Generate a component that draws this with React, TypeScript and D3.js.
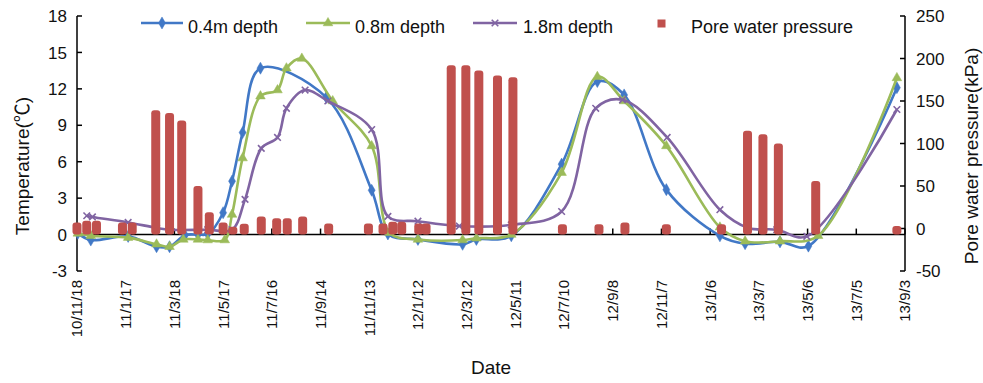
import React from "react";
import * as d3 from "d3";

// ---- tick labels (x axis, date axis with 60-day major unit) ----
const xTickLabels = [
  "10/11/18", "11/1/17", "11/3/18", "11/5/17", "11/7/16", "11/9/14",
  "11/11/13", "12/1/12", "12/3/12", "12/5/11", "12/7/10", "12/9/8",
  "12/11/7", "13/1/6", "13/3/7", "13/5/6", "13/7/5", "13/9/3",
];
const leftTicks = [-3, 0, 3, 6, 9, 12, 15, 18];
const rightTicks = [-50, 0, 50, 100, 150, 200, 250];

// ---- 0.4m depth ----
const dates04 = [
  "2010-11-19", "2010-12-05", "2011-01-20", "2011-02-24", "2011-03-12",
  "2011-03-31", "2011-04-16", "2011-04-28", "2011-05-17", "2011-05-28",
  "2011-06-10", "2011-07-02", "2011-09-21", "2011-11-16", "2011-12-06",
  "2012-01-12", "2012-03-07", "2012-03-24", "2012-05-06", "2012-07-07",
  "2012-08-20", "2012-09-22", "2012-11-13", "2013-01-18", "2013-02-18",
  "2013-04-02", "2013-05-07", "2013-08-24",
];
const temp04 = [
  0.1, -0.45, -0.15, -1.0, -1.0,
  -0.05, 0.0, 0.05, 1.8, 4.4,
  8.4, 13.7, 11.3, 3.65, 0.05,
  -0.4, -0.8, -0.4, -0.1, 5.8,
  12.6, 11.5, 3.7, -0.1, -0.75,
  -0.6, -0.95, 12.1,
];

// ---- 0.8m depth ----
const dates08 = [
  "2010-11-19", "2010-12-05", "2011-01-20", "2011-02-24", "2011-03-12",
  "2011-03-29", "2011-04-16", "2011-04-28", "2011-05-19", "2011-05-28",
  "2011-06-10", "2011-07-02", "2011-07-23", "2011-08-03", "2011-08-22",
  "2011-09-29", "2011-11-16", "2011-12-08", "2012-01-12", "2012-03-07",
  "2012-03-24", "2012-05-06", "2012-07-07", "2012-08-20", "2012-09-22",
  "2012-11-13", "2013-01-18", "2013-02-18", "2013-04-02", "2013-05-19",
  "2013-08-24",
];
const temp08 = [
  0.1, -0.1, -0.25, -0.8, -1.0,
  -0.4, -0.4, -0.45, -0.45, 1.65,
  6.3, 11.4, 11.9, 13.7, 14.5,
  11.0, 7.3, 0.15, -0.4, -0.45,
  -0.3, 0.0, 5.1, 13.0, 11.0,
  7.3, 0.6, -0.55, -0.55, -0.1,
  12.9,
];

// ---- 1.8m depth ----
const dates18 = [
  "2010-11-30", "2010-12-07", "2011-01-20", "2011-02-24", "2011-03-12",
  "2011-04-28", "2011-05-28", "2011-06-13", "2011-07-03", "2011-07-23",
  "2011-08-03", "2011-08-26", "2011-09-23", "2011-11-16", "2011-12-06",
  "2012-01-12", "2012-03-03", "2012-05-06", "2012-07-07", "2012-08-18",
  "2012-09-20", "2012-11-14", "2013-01-18", "2013-02-22", "2013-03-29",
  "2013-05-05", "2013-08-24",
];
const temp18 = [
  1.55, 1.45, 1.0, 0.55, 0.4,
  0.4, 0.4, 2.9, 7.1, 8.0,
  10.4, 11.9, 11.0, 8.65, 1.5,
  1.1, 0.7, 0.8, 1.9, 10.4,
  11.1, 8.0, 2.05, 0.55, 0.4,
  -0.15, 10.3,
];

// ---- pore water pressure (kPa) ----
const pwpDates = [
  "2010-11-18", "2010-11-30", "2010-12-12", "2011-01-13", "2011-01-25",
  "2011-02-23", "2011-03-12", "2011-03-27", "2011-04-16", "2011-04-30",
  "2011-05-17", "2011-05-29", "2011-06-12", "2011-07-03", "2011-07-22",
  "2011-08-04", "2011-08-23", "2011-09-24", "2011-11-12", "2011-11-30",
  "2011-12-12", "2011-12-23", "2012-01-13", "2012-01-22", "2012-02-22",
  "2012-03-11", "2012-03-27", "2012-04-19", "2012-05-08", "2012-07-08",
  "2012-08-22", "2012-09-23", "2012-11-13", "2013-01-20", "2013-02-21",
  "2013-03-12", "2013-03-31", "2013-05-16", "2013-08-24",
];
const pwpValues = [
  7, 9, 9, 7, 7,
  139, 136, 127, 50, 19,
  7, 2, 5.5, 14, 12,
  12, 14, 6, 6, 6,
  8, 8, 6, 6, 192,
  192, 186, 180, 178, 5,
  5, 7, 5, 5, 115,
  111, 100, 56, 3,
];

const BLUE = "#4178C6";
const GREEN = "#9BBB59";
const PURPLE = "#8064A2";
const RED = "#C0504D";
const FONT = "'Liberation Sans', Arial, 'Noto Sans CJK SC', sans-serif";

const parseISO = d3.timeParse("%Y-%m-%d");
const parseTick = d3.timeParse("%y/%m/%d");

export default function App() {
  const x = d3
    .scaleTime()
    .domain([parseTick(xTickLabels[0])!, parseTick(xTickLabels[xTickLabels.length - 1])!])
    .range([77, 905]);
  const yL = d3.scaleLinear().domain([-3, 18]).range([271, 16]);
  const yR = d3.scaleLinear().domain([-50, 250]).range([271, 16]);

  const line = d3
    .line<[Date, number]>()
    .x((d) => x(d[0]))
    .y((d) => yL(d[1]))
    .curve(d3.curveCatmullRom.alpha(0.5));

  const series = [
    { name: "0.4m depth", dates: dates04, vals: temp04, color: BLUE, sym: d3.symbolDiamond, stroke: false, size: 42 },
    { name: "0.8m depth", dates: dates08, vals: temp08, color: GREEN, sym: d3.symbolTriangle, stroke: false, size: 40 },
    { name: "1.8m depth", dates: dates18, vals: temp18, color: PURPLE, sym: d3.symbolX, stroke: true, size: 30 },
  ];

  const axisY = yL(0);

  const legendItems = [
    { x1: 141, x2: 183, tx: 188, s: series[0] },
    { x1: 306, x2: 350, tx: 355, s: series[1] },
    { x1: 473, x2: 517, tx: 523, s: series[2] },
  ];

  return (
    <svg
      width={983}
      height={383}
      style={{ position: "absolute", left: 0, top: 0, background: "#fff" }}
      fontFamily={FONT}
    >
      <rect x={0} y={0} width={983} height={383} fill="#fff" />

      {/* left axis */}
      <line x1={77} x2={77} y1={16} y2={271} stroke="#000" strokeWidth={1.5} />
      {leftTicks.map((t) => (
        <g key={"l" + t}>
          <line x1={77} x2={82} y1={yL(t)} y2={yL(t)} stroke="#000" strokeWidth={1.5} />
          <text x={67} y={yL(t)} dy="0.36em" textAnchor="end" fontSize={17} fill="#111">
            {t}
          </text>
        </g>
      ))}

      {/* right axis */}
      <line x1={905} x2={905} y1={16} y2={271} stroke="#000" strokeWidth={1.5} />
      {rightTicks.map((t) => (
        <g key={"r" + t}>
          <line x1={900} x2={905} y1={yR(t)} y2={yR(t)} stroke="#000" strokeWidth={1.5} />
          <text x={916} y={yR(t)} dy="0.36em" textAnchor="start" fontSize={17} fill="#111">
            {t}
          </text>
        </g>
      ))}

      {/* x axis */}
      <line x1={77} x2={905} y1={axisY} y2={axisY} stroke="#000" strokeWidth={1.5} />
      {xTickLabels.map((lab) => {
        const px = x(parseTick(lab)!);
        return (
          <g key={lab}>
            <line x1={px} x2={px} y1={axisY} y2={axisY - 6} stroke="#000" strokeWidth={1.5} />
            <text
              transform={`translate(${px},280) rotate(-90)`}
              textAnchor="end"
              dy="0.36em"
              fontSize={15}
              fill="#111"
            >
              {lab}
            </text>
          </g>
        );
      })}

      {/* temperature lines */}
      {series.map((s) => {
        const pts: [Date, number][] = s.dates.map((d, i) => [parseISO(d)!, s.vals[i]]);
        const symPath = d3.symbol(s.sym, s.size)()!;
        return (
          <g key={s.name}>
            <path d={line(pts)!} fill="none" stroke={s.color} strokeWidth={2.6} strokeLinejoin="round" />
            {pts.map((p, i) => (
              <path
                key={i}
                d={symPath}
                transform={`translate(${x(p[0])},${yL(p[1])})`}
                fill={s.stroke ? "none" : s.color}
                stroke={s.color}
                strokeWidth={s.stroke ? 1.6 : 0.5}
              />
            ))}
          </g>
        );
      })}

      {/* pore water pressure bars */}
      {pwpDates.map((d, i) => {
        const cx = x(parseISO(d)!);
        const top = yR(pwpValues[i]);
        return (
          <rect
            key={"b" + i}
            x={cx - 4.5}
            y={top}
            width={9}
            height={Math.max(axisY - top, 2)}
            rx={3}
            fill={RED}
          />
        );
      })}

      {/* legend */}
      {legendItems.map((it) => (
        <g key={"lg" + it.s.name}>
          <line x1={it.x1} x2={it.x2} y1={23} y2={23} stroke={it.s.color} strokeWidth={2.6} />
          <path
            d={d3.symbol(it.s.sym, it.s.size)()!}
            transform={`translate(${(it.x1 + it.x2) / 2},23)`}
            fill={it.s.stroke ? "none" : it.s.color}
            stroke={it.s.color}
            strokeWidth={it.s.stroke ? 1.6 : 0.5}
          />
          <text x={it.tx} y={33} fontSize={18} fill="#111">
            {it.s.name}
          </text>
        </g>
      ))}
      <rect x={657.5} y={19.5} width={8} height={8} fill={RED} />
      <text x={691} y={33} fontSize={18} fill="#111">
        Pore water pressure
      </text>

      {/* axis titles */}
      <text
        transform="translate(22,166) rotate(-90)"
        textAnchor="middle"
        dy="0.36em"
        fontSize={19}
        fill="#111"
      >
        Temperature(℃)
      </text>
      <text
        transform="translate(971,156) rotate(-90)"
        textAnchor="middle"
        dy="0.36em"
        fontSize={19}
        fill="#111"
      >
        Pore water pressure(kPa)
      </text>
      <text x={491} y={374} textAnchor="middle" fontSize={19} fill="#111">
        Date
      </text>
    </svg>
  );
}
